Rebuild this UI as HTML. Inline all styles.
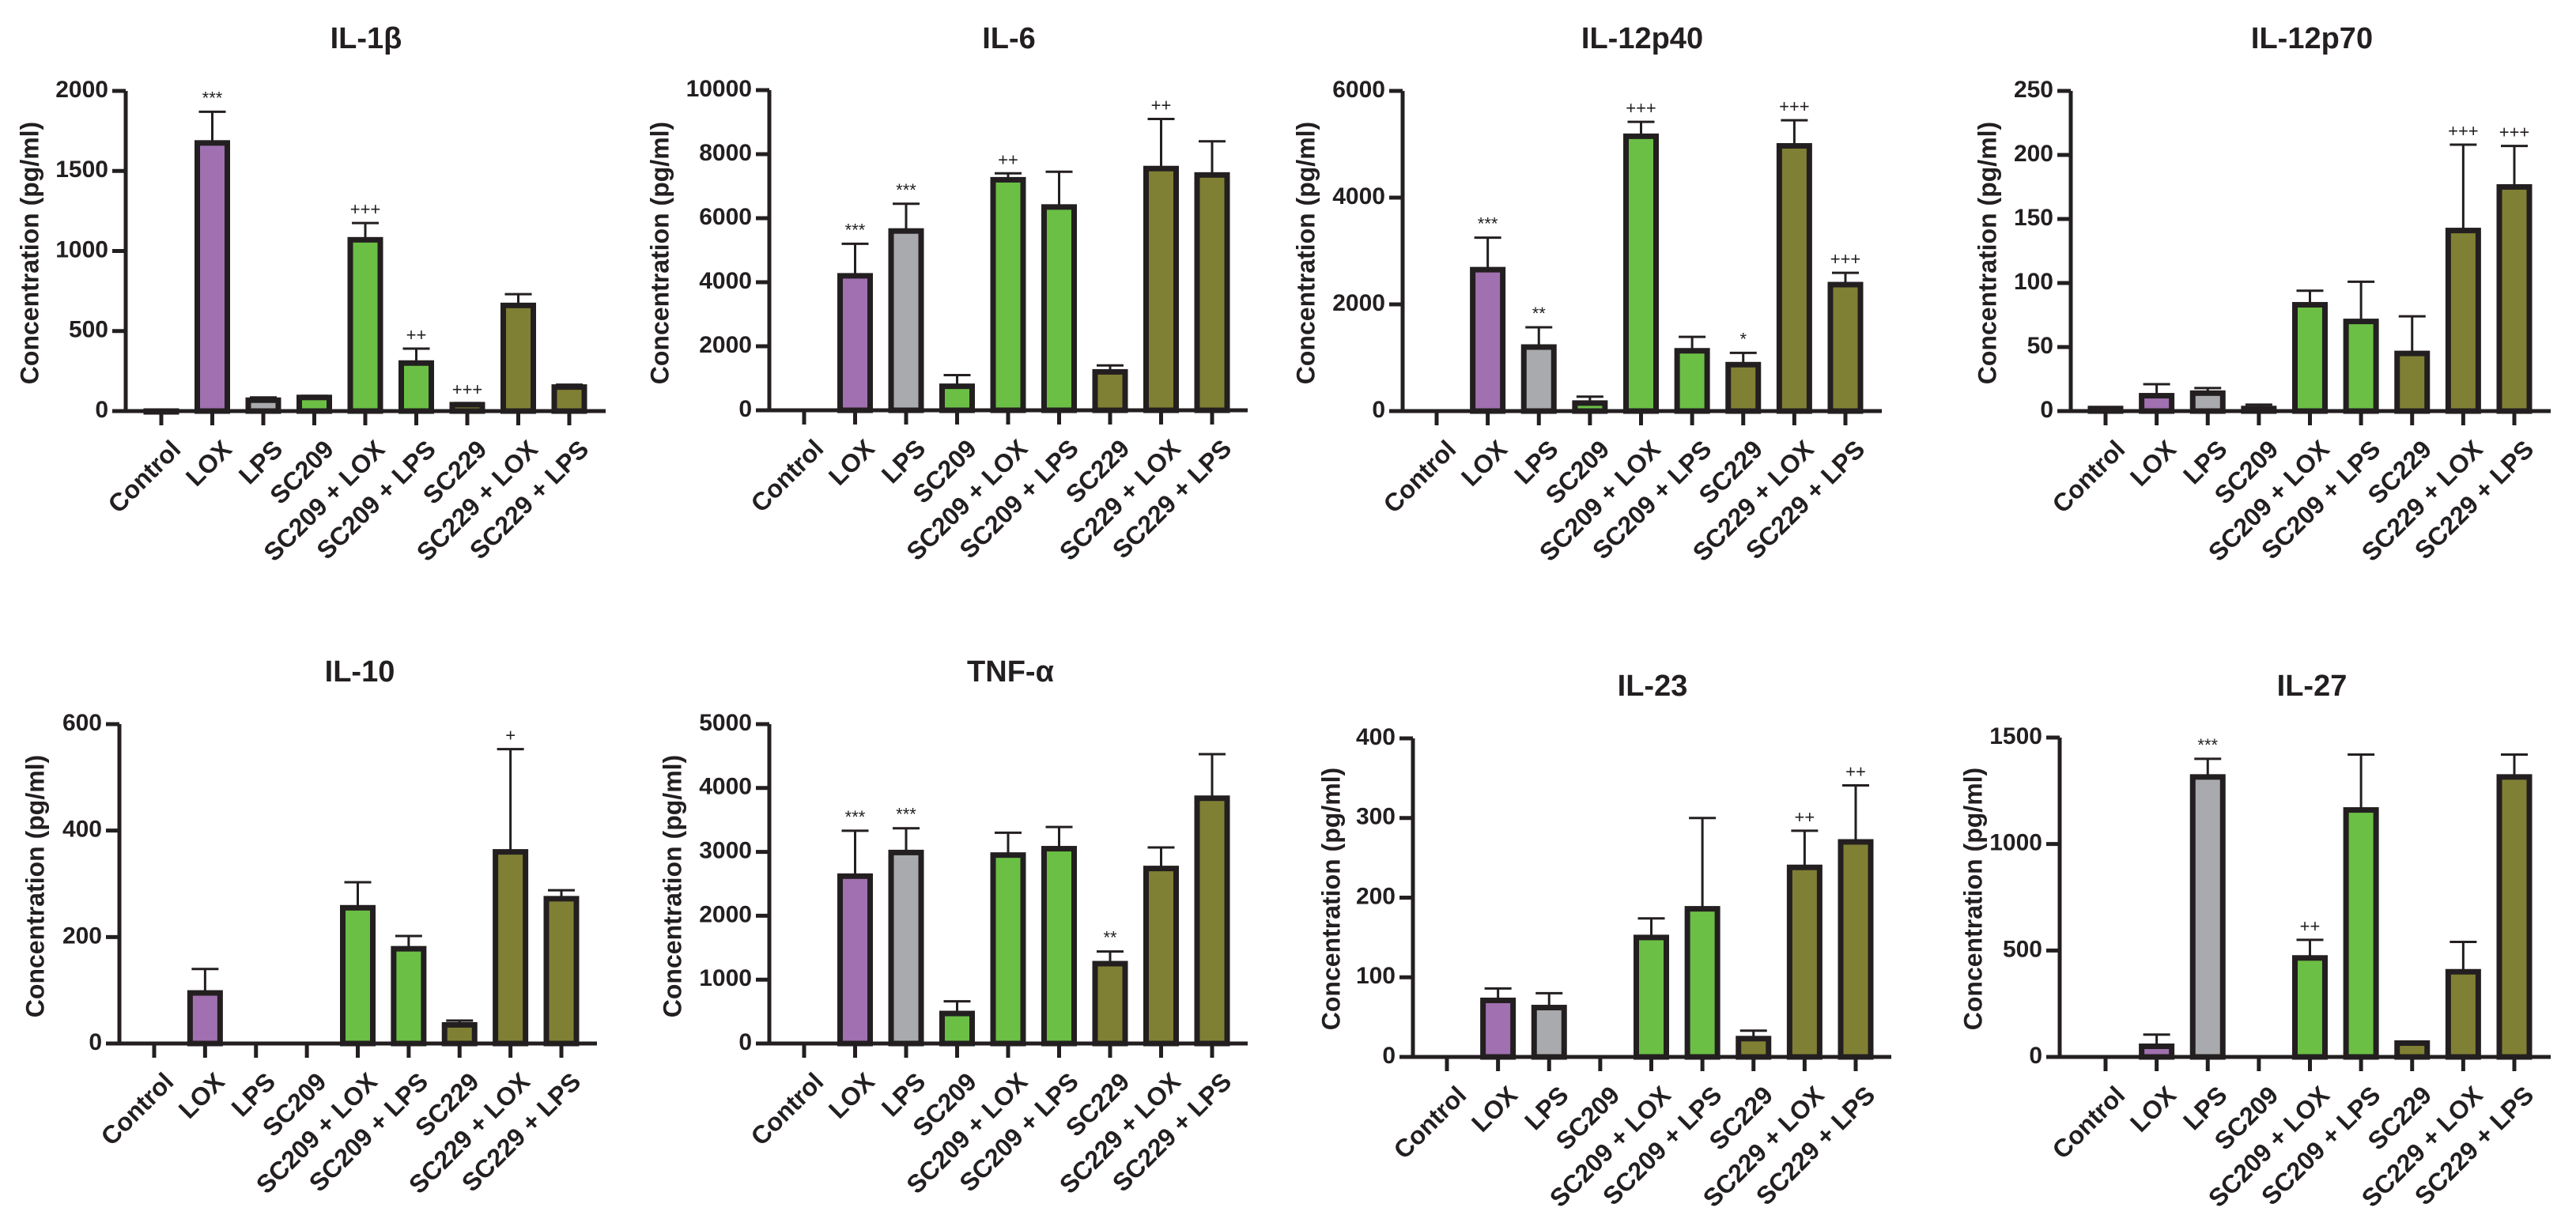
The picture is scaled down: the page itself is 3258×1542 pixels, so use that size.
<!DOCTYPE html>
<html><head><meta charset="utf-8">
<style>
html,body{margin:0;padding:0;background:#fff;}
svg{display:block;font-family:"Liberation Sans",Arial,sans-serif;}
</style></head>
<body>
<svg id="fig" width="3258" height="1542" viewBox="0 0 3258 1542" xmlns="http://www.w3.org/2000/svg"></svg>
<script>
const categories = ["Control","LOX","LPS","SC209","SC209 + LOX","SC209 + LPS","SC229","SC229 + LOX","SC229 + LPS"];
const catColors = ["#a070b0","#a070b0","#a9aaad","#6bbf45","#6bbf45","#6bbf45","#808034","#808034","#808034"];

const il1bMeans = [0,1675,68,85,1070,300,40,660,150];
const il1bErr   = [0,1870,85,95,1175,390,50,730,165];
const il1bAnn   = ["","***","","","+++","++","+++","",""];
const il1bTicks = [0,500,1000,1500,2000];

const il6Means = [0,4200,5600,750,7200,6350,1200,7550,7350];
const il6Err   = [0,5200,6450,1100,7400,7450,1400,9100,8400];
const il6Ann   = ["","***","***","","++","","","++",""];
const il6Ticks = [0,2000,4000,6000,8000,10000];

const p40Means = [0,2650,1200,150,5150,1130,870,4970,2370];
const p40Err   = [0,3250,1570,270,5420,1390,1090,5450,2590];
const p40Ann   = ["","***","**","","+++","","*","+++","+++"];
const p40Ticks = [0,2000,4000,6000];

const p70Means = [2,12,14,2,83,70,45,141,175];
const p70Err   = [2,21,18,5,94,101,74,208,207];
const p70Ann   = ["","","","","","","","+++","+++"];
const p70Ticks = [0,50,100,150,200,250];

const il10Means = [0,95,0,0,255,178,35,360,272];
const il10Err   = [0,140,0,0,303,202,43,553,288];
const il10Ann   = ["","","","","","","","+",""];
const il10Ticks = [0,200,400,600];

const tnfMeans = [0,2620,2990,470,2950,3050,1250,2740,3840];
const tnfErr   = [0,3330,3370,660,3300,3390,1440,3070,4530];
const tnfAnn   = ["","***","***","","","","**","",""];
const tnfTicks = [0,1000,2000,3000,4000,5000];

const il23Means = [0,71,62,0,150,186,23,238,270];
const il23Err   = [0,86,80,0,174,300,33,284,341];
const il23Ann   = ["","","","","","","","++","++"];
const il23Ticks = [0,100,200,300,400];

const il27Means = [0,50,1315,0,465,1160,65,400,1315];
const il27Err   = [0,105,1400,0,550,1420,68,540,1420];
const il27Ann   = ["","","***","","++","","","",""];
const il27Ticks = [0,500,1000,1500];

const panels = [
 {name:"il-1b", title:"IL-1β", means:il1bMeans, err:il1bErr, ann:il1bAnn, ticks:il1bTicks, ax:159, top:115, zero:520, first:204, last:720, xEnd:766, tx:463, ty:51, yt:40, ytY:320, flatZero:[0]},
 {name:"il-6", title:"IL-6", means:il6Means, err:il6Err, ann:il6Ann, ticks:il6Ticks, ax:973, top:114, zero:519, first:1017, last:1533, xEnd:1578, tx:1276, ty:51, yt:837, ytY:320, flatZero:[]},
 {name:"il-12p40", title:"IL-12p40", means:p40Means, err:p40Err, ann:p40Ann, ticks:p40Ticks, ax:1774, top:115, zero:520, first:1817, last:2334, xEnd:2380, tx:2077, ty:51, yt:1654, ytY:320, flatZero:[]},
 {name:"il-12p70", title:"IL-12p70", means:p70Means, err:p70Err, ann:p70Ann, ticks:p70Ticks, ax:2619, top:115, zero:520, first:2663, last:3180, xEnd:3226, tx:2924, ty:51, yt:2516, ytY:320, flatZero:[]},
 {name:"il-10", title:"IL-10", means:il10Means, err:il10Err, ann:il10Ann, ticks:il10Ticks, ax:151, top:916, zero:1320, first:195, last:710, xEnd:755, tx:455, ty:852, yt:47, ytY:1121, flatZero:[]},
 {name:"tnf-a", title:"TNF-α", means:tnfMeans, err:tnfErr, ann:tnfAnn, ticks:tnfTicks, ax:973, top:916, zero:1320, first:1017, last:1533, xEnd:1578, tx:1278, ty:852, yt:853, ytY:1121, flatZero:[]},
 {name:"il-23", title:"IL-23", means:il23Means, err:il23Err, ann:il23Ann, ticks:il23Ticks, ax:1787, top:934, zero:1337, first:1830, last:2347, xEnd:2392, tx:2090, ty:870, yt:1686, ytY:1137, flatZero:[]},
 {name:"il-27", title:"IL-27", means:il27Means, err:il27Err, ann:il27Ann, ticks:il27Ticks, ax:2605, top:933, zero:1337, first:2663, last:3180, xEnd:3226, tx:2924, ty:870, yt:2498, ytY:1137, flatZero:[]}
];

const NS = "http://www.w3.org/2000/svg";
const svg = document.getElementById("fig");
const INK = "#231f20";
function mk(tag, attrs, parent){
  const e = document.createElementNS(NS, tag);
  for (const k in attrs) e.setAttribute(k, attrs[k]);
  parent.appendChild(e);
  return e;
}

panels.forEach(p => {
  const g = mk("g", {}, svg);
  
  
  const maxV = p.ticks[p.ticks.length-1];
  const y = v => p.zero - (v / maxV) * (p.zero - p.top);
  const step = (p.last - p.first) / (categories.length - 1);
  const x = i => p.first + i * step;

  const t = mk("text", {x:p.tx, y:p.ty, "text-anchor":"middle", "dominant-baseline":"middle", "font-size":38, "font-weight":"bold", fill:INK}, g);
  t.textContent = p.title;
  
  

  const yt = mk("text", {x:p.yt, y:p.ytY, "text-anchor":"middle", "dominant-baseline":"middle", "font-size":32, "font-weight":"bold", fill:INK, transform:`rotate(-90 ${p.yt} ${p.ytY})`}, g);
  yt.textContent = "Concentration (pg/ml)";
  
  

  p.means.forEach((v, i) => {
    const bw = 38;
    if (v > 0 || p.flatZero.indexOf(i) >= 0) {
      const top = v > 0 ? y(v) : p.zero;
      const h = Math.max(p.zero - top, 1);
      const r = mk("rect", {x:x(i)-bw/2, y:top, width:bw, height:h, fill:catColors[i], stroke:INK, "stroke-width":7}, g);
      
      
      const e = p.err[i];
      if (e > v) {
        const el = mk("path", {d:`M${x(i)} ${top} V${y(e)} M${x(i)-17} ${y(e)} H${x(i)+17}`, stroke:INK, "stroke-width":3, fill:"none"}, g);
        
        
      }
    }
    if (p.ann[i]) {
      const a = mk("text", {x:x(i), y:y(Math.max(p.err[i], v)) - 10, "text-anchor":"middle", "font-size":22, fill:INK}, g);
      a.textContent = p.ann[i];
      
      
    }
  });

  const axes = mk("path", {d:`M${p.ax} ${p.top} V${p.zero} H${p.xEnd}`, stroke:INK, "stroke-width":5, fill:"none"}, g);
  
  

  p.ticks.forEach(v => {
    const tk = mk("line", {x1:p.ax-17, x2:p.ax, y1:y(v), y2:y(v), stroke:INK, "stroke-width":5}, g);
    
    
    const tl = mk("text", {x:p.ax-22, y:y(v), "text-anchor":"end", "dominant-baseline":"middle", "font-size":30, "font-weight":"bold", fill:INK}, g);
    tl.textContent = v;
    
    
  });

  categories.forEach((c, i) => {
    const tk = mk("line", {x1:x(i), x2:x(i), y1:p.zero, y2:p.zero+18, stroke:INK, "stroke-width":5}, g);
    
    
    const lx = x(i) + 10, ly = p.zero + 34;
    const tl = mk("text", {x:lx, y:ly, "text-anchor":"end", "dominant-baseline":"hanging", "font-size":32, "font-weight":"bold", fill:INK, transform:`rotate(-45 ${lx} ${ly})`}, g);
    tl.textContent = c;
    
    
  });
});
</script>
</body></html>
